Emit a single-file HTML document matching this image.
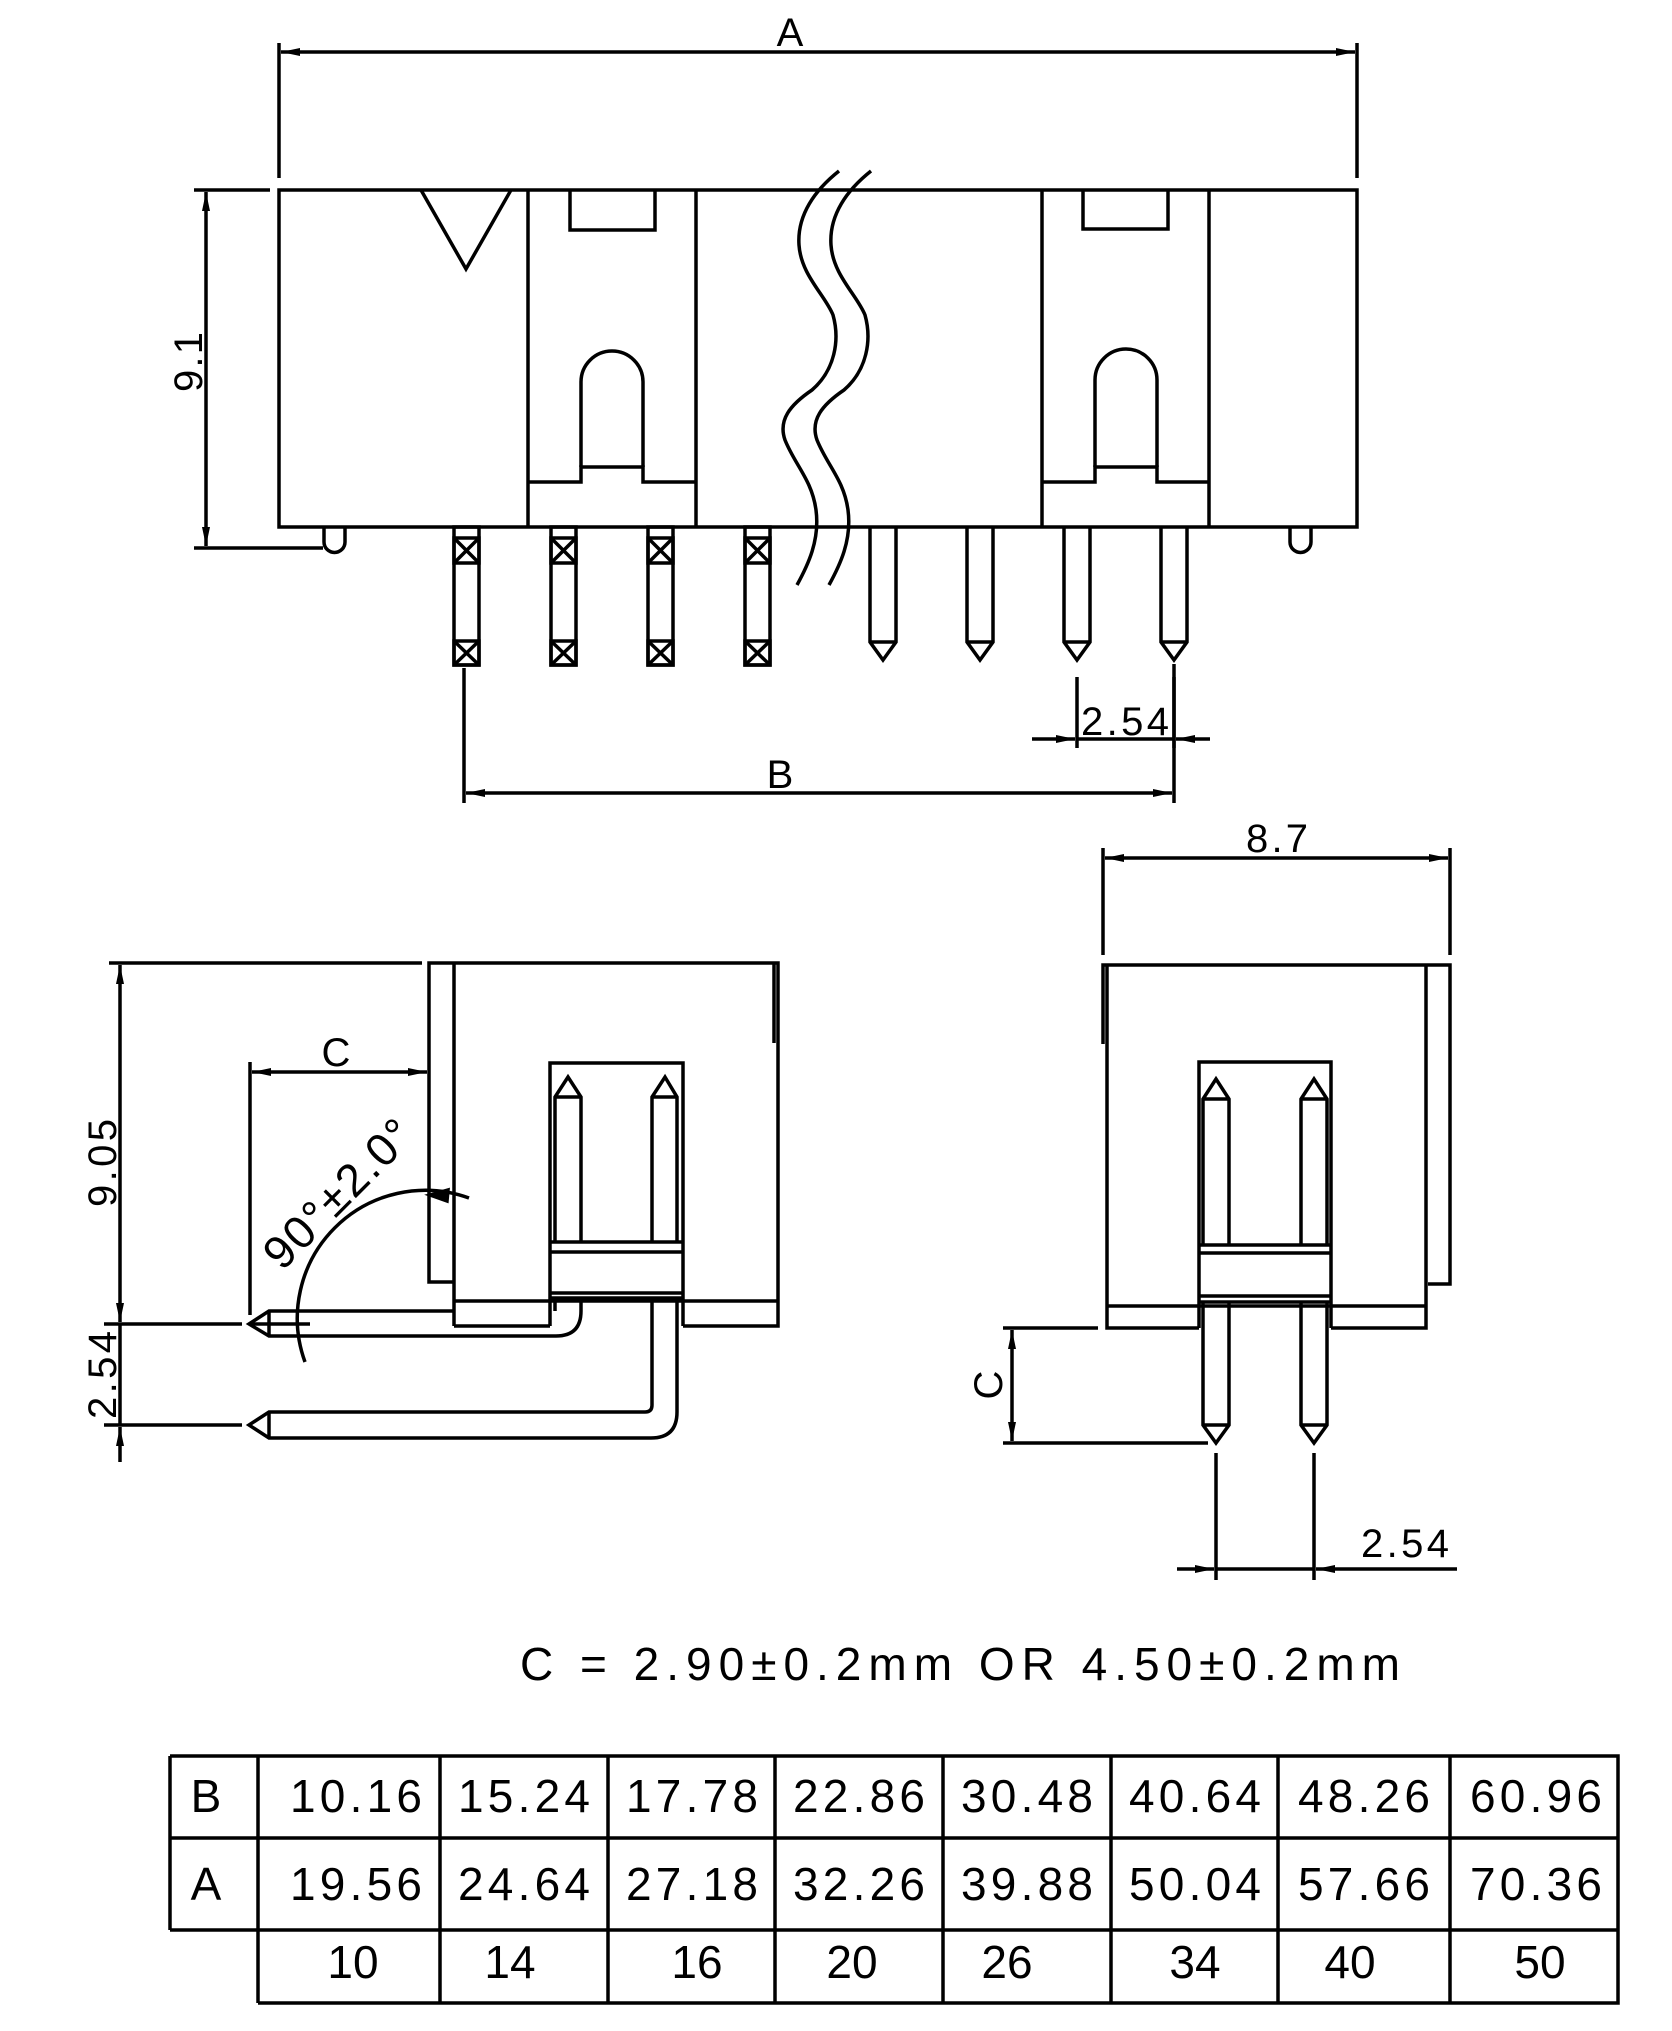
<!DOCTYPE html>
<html><head><meta charset="utf-8"><style>
html,body{margin:0;padding:0;background:#fff;}
svg{display:block;}
text{font-family:"Liberation Sans",sans-serif;fill:#000;}
</style></head><body>
<svg width="1672" height="2031" viewBox="0 0 1672 2031" xmlns="http://www.w3.org/2000/svg">
<defs>
<marker id="ar" markerWidth="20" markerHeight="10" refX="19" refY="5" orient="auto-start-reverse" markerUnits="userSpaceOnUse">
<path d="M0,1 L19,5 L0,9 Z" fill="#000"/></marker>
</defs>
<g fill="none" stroke="#000" stroke-width="3.5">
<!-- TOP VIEW -->
<rect x="279" y="190" width="1078" height="337"/>
<line x1="528" y1="190" x2="528" y2="527"/>
<line x1="696" y1="190" x2="696" y2="527"/>
<line x1="1042" y1="190" x2="1042" y2="527"/>
<line x1="1209" y1="190" x2="1209" y2="527"/>
<path d="M421,190 L466,269 L511,190"/>
<path d="M570,190 V230 H655 V190"/>
<path d="M1083,190 V229 H1168 V190"/>
<path d="M528,482 H581 V467 H643 V482 H696"/>
<path d="M581,467 V382 A31,31 0 0 1 643,382 V467"/>
<path d="M1042,482 H1095 V467 H1157 V482 H1209"/>
<path d="M1095,467 V380 A31,31 0 0 1 1157,380 V467"/>
<path d="M324,527 V542 A10.5,10.5 0 0 0 345,542 V527"/>
<path d="M1290,527 V542 A10.5,10.5 0 0 0 1311,542 V527"/>
<path d="M839,171 C815,190 797,215 799,245 C801,275 825,295 833,315 C840,340 835,370 812,390 C790,405 778,420 785,440 C795,465 812,480 816,510 C820,540 808,565 797,585"/>
<path d="M871,171 C847,190 829,215 831,245 C833,275 857,295 865,315 C872,340 867,370 844,390 C822,405 810,420 817,440 C827,465 844,480 848,510 C852,540 840,565 829,585"/>
<g id="sp">
<rect x="454" y="527" width="25" height="138"/>
<rect x="454" y="538" width="25" height="25"/>
<path d="M454,538 L479,563 M479,538 L454,563"/>
<rect x="454" y="641" width="25" height="24"/>
<path d="M454,641 L479,665 M479,641 L454,665"/>
</g>
<use href="#sp" x="97"/>
<use href="#sp" x="194"/>
<use href="#sp" x="291"/>
<g id="pp"><path d="M870,527 V642 L883,660 L896,642 V527"/><line x1="870" y1="642" x2="896" y2="642"/></g>
<use href="#pp" x="97"/>
<use href="#pp" x="194"/>
<use href="#pp" x="291"/>
<line x1="279" y1="43" x2="279" y2="178"/>
<line x1="1357" y1="43" x2="1357" y2="178"/>
<line x1="281" y1="52" x2="1355" y2="52" marker-start="url(#ar)" marker-end="url(#ar)"/>
<line x1="194" y1="190" x2="270" y2="190"/>
<line x1="194" y1="548" x2="323" y2="548"/>
<line x1="206" y1="192" x2="206" y2="546" marker-start="url(#ar)" marker-end="url(#ar)"/>
<line x1="464" y1="668" x2="464" y2="803"/>
<line x1="1174" y1="664" x2="1174" y2="803"/>
<line x1="466" y1="793" x2="1172" y2="793" marker-start="url(#ar)" marker-end="url(#ar)"/>
<line x1="1077" y1="677" x2="1077" y2="748"/>
<line x1="1174" y1="677" x2="1174" y2="748"/>
<line x1="1032" y1="739" x2="1075" y2="739" marker-end="url(#ar)"/>
<line x1="1077" y1="739" x2="1174" y2="739"/>
<line x1="1210" y1="739" x2="1176" y2="739" marker-end="url(#ar)"/>

<!-- LEFT SIDE VIEW -->
<line x1="109" y1="963" x2="422" y2="963"/>
<path d="M454,1282 H429 V963 H778 V1326 H683"/>
<line x1="454" y1="963" x2="454" y2="1326"/>
<path d="M454,1326 H550"/>
<line x1="454" y1="1301" x2="778" y2="1301"/>
<line x1="774" y1="963" x2="774" y2="1043"/>
<path d="M550,1326 V1063 H683 V1326"/>
<path d="M550,1242 H683 M550,1252 H683 M550,1293 H683 M550,1298 H683"/>
<path d="M555,1242 V1097 L568,1077 L581,1097 V1242 M555,1097 H581"/>
<path d="M652,1242 V1097 L665,1077 L677,1097 V1242 M652,1097 H677"/>
<path d="M581,1300 V1311 Q581,1336 556,1336 H269 L249,1324 L269,1311 H454"/>
<line x1="269" y1="1311" x2="269" y2="1336"/>
<line x1="555" y1="1300" x2="555" y2="1311"/>
<path d="M652,1300 V1405 Q652,1412 645,1412 H269 L249,1425 L269,1438 H651 Q677,1438 677,1412 V1300"/>
<line x1="269" y1="1412" x2="269" y2="1438"/>
<line x1="250" y1="1062" x2="250" y2="1315"/>
<line x1="252" y1="1072" x2="427" y2="1072" marker-start="url(#ar)" marker-end="url(#ar)"/>
<line x1="120" y1="965" x2="120" y2="1322" marker-start="url(#ar)" marker-end="url(#ar)"/>
<line x1="104" y1="1324" x2="242" y2="1324"/>
<line x1="249" y1="1324" x2="310" y2="1324"/>
<line x1="104" y1="1425" x2="242" y2="1425"/>
<line x1="120" y1="1324" x2="120" y2="1425"/>
<line x1="120" y1="1462" x2="120" y2="1427" marker-end="url(#ar)"/>
<path d="M305,1362 A128,128 0 0 1 469,1198"/>
<path d="M430,1195 L448,1190 L447,1201 Z" fill="#000"/>

<!-- RIGHT VIEW -->
<line x1="1103" y1="848" x2="1103" y2="955"/>
<line x1="1450" y1="848" x2="1450" y2="955"/>
<line x1="1105" y1="858" x2="1448" y2="858" marker-start="url(#ar)" marker-end="url(#ar)"/>
<path d="M1103,1044 V965 H1450 V1284 H1428"/>
<path d="M1107,965 V1328 H1199 M1331,1328 H1426 V965"/>
<line x1="1107" y1="1306" x2="1426" y2="1306"/>
<path d="M1199,1328 V1062 H1331 V1328"/>
<path d="M1199,1245 H1331 M1199,1253 H1331 M1199,1296 H1331 M1199,1302 H1331"/>
<g id="rp"><path d="M1203,1245 V1099 L1216,1079 L1229,1099 V1245 M1203,1099 H1229"/>
<path d="M1203,1302 V1425 L1216,1443 L1229,1425 V1302 M1203,1425 H1229"/></g>
<use href="#rp" x="98"/>
<line x1="1003" y1="1328" x2="1098" y2="1328"/>
<line x1="1003" y1="1443" x2="1208" y2="1443"/>
<line x1="1012" y1="1330" x2="1012" y2="1441" marker-start="url(#ar)" marker-end="url(#ar)"/>
<line x1="1216" y1="1453" x2="1216" y2="1580"/>
<line x1="1314" y1="1453" x2="1314" y2="1580"/>
<line x1="1177" y1="1569" x2="1214" y2="1569" marker-end="url(#ar)"/>
<line x1="1216" y1="1569" x2="1314" y2="1569"/>
<line x1="1457" y1="1569" x2="1316" y2="1569" marker-end="url(#ar)"/>

<!-- TABLE -->
<path d="M170,1756 H1618 V2003 H258 M170,1838 H1618 M170,1930 H1618 M170,1756 V1930"/>
<path d="M258,1756 V2003 M440,1756 V2003 M608,1756 V2003 M775,1756 V2003 M943,1756 V2003 M1111,1756 V2003 M1278,1756 V2003 M1450,1756 V2003"/>
</g>

<g font-size="40">
<text x="790" y="46" text-anchor="middle">A</text>
<text x="0" y="0" text-anchor="middle" transform="translate(202,362) rotate(-90)" textLength="60">9.1</text>
<text x="780" y="788" text-anchor="middle">B</text>
<text x="1125" y="735" text-anchor="middle" textLength="88">2.54</text>
<text x="336" y="1066" text-anchor="middle">C</text>
<text x="0" y="0" text-anchor="middle" transform="translate(116,1163) rotate(-90)" textLength="88">9.05</text>
<text x="0" y="0" text-anchor="middle" transform="translate(116,1375) rotate(-90)" textLength="88">2.54</text>
<text x="0" y="0" transform="translate(282,1272) rotate(-45)" font-size="46" textLength="190">90°±2.0°</text>
<text x="1277" y="852" text-anchor="middle" textLength="62">8.7</text>
<text x="0" y="0" text-anchor="middle" transform="translate(1002,1385) rotate(-90)">C</text>
<text x="1405" y="1557" text-anchor="middle" textLength="88">2.54</text>
</g>
<text x="520" y="1680" font-size="46" textLength="880" lengthAdjust="spacing">C  =  2.90±0.2mm  OR  4.50±0.2mm</text>

<g font-size="46" text-anchor="middle">
<text x="206" y="1812">B</text>
<text x="206" y="1900">A</text>
<text x="356" y="1812" textLength="132">10.16</text>
<text x="524" y="1812" textLength="132">15.24</text>
<text x="692" y="1812" textLength="132">17.78</text>
<text x="859" y="1812" textLength="132">22.86</text>
<text x="1027" y="1812" textLength="132">30.48</text>
<text x="1195" y="1812" textLength="132">40.64</text>
<text x="1364" y="1812" textLength="132">48.26</text>
<text x="1536" y="1812" textLength="132">60.96</text>
<text x="356" y="1900" textLength="132">19.56</text>
<text x="524" y="1900" textLength="132">24.64</text>
<text x="692" y="1900" textLength="132">27.18</text>
<text x="859" y="1900" textLength="132">32.26</text>
<text x="1027" y="1900" textLength="132">39.88</text>
<text x="1195" y="1900" textLength="132">50.04</text>
<text x="1364" y="1900" textLength="132">57.66</text>
<text x="1536" y="1900" textLength="132">70.36</text>
<text x="353" y="1978">10</text>
<text x="510" y="1978">14</text>
<text x="697" y="1978">16</text>
<text x="852" y="1978">20</text>
<text x="1007" y="1978">26</text>
<text x="1195" y="1978">34</text>
<text x="1350" y="1978">40</text>
<text x="1540" y="1978">50</text>
</g>
</svg>
</body></html>
